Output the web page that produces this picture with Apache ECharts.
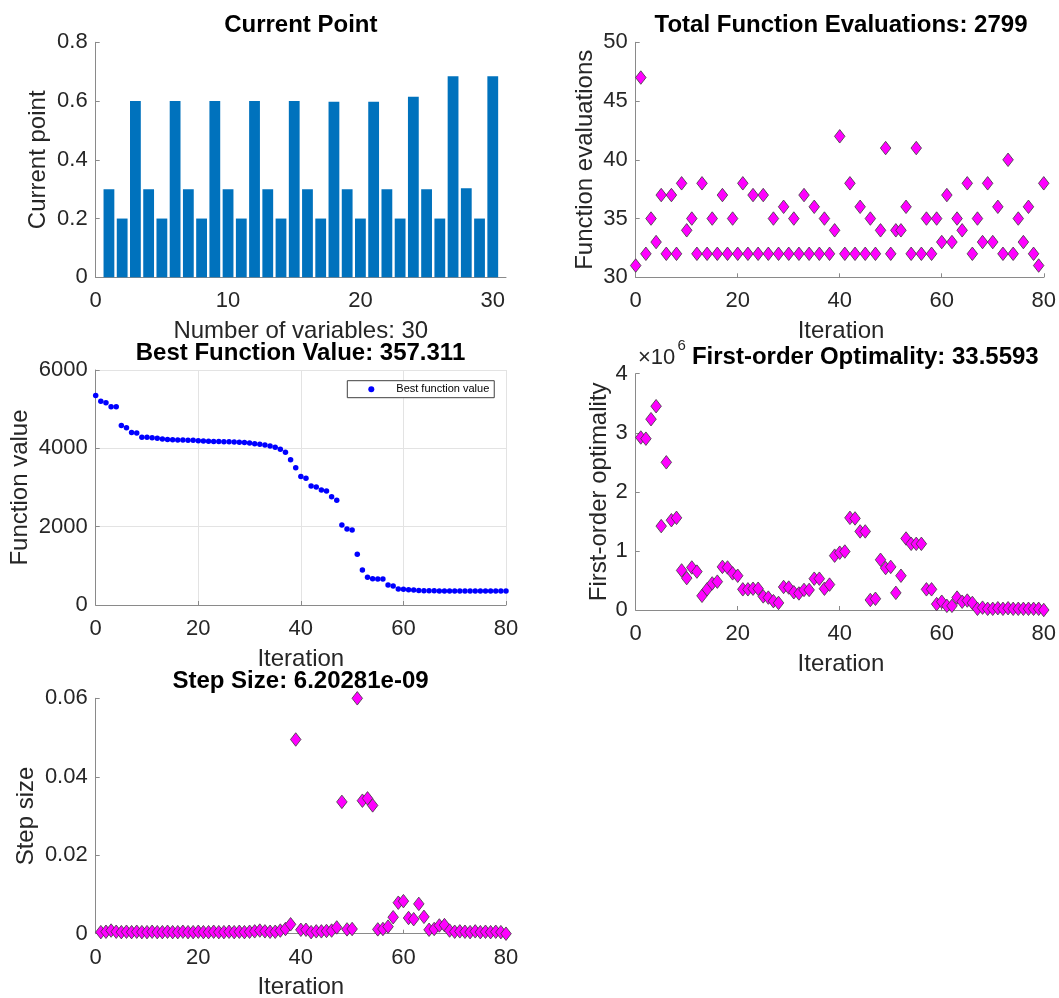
<!DOCTYPE html>
<html><head><meta charset="utf-8">
<script src="https://cdn.jsdelivr.net/npm/echarts@6/dist/echarts.min.js"></script>
<style>html,body{margin:0;padding:0;background:#fff;}#main{width:1059px;height:998px;}</style>
</head><body><div id="main"></div>
<script>
// ---------------- DATA ----------------
// Current point: variables 1..30
const currentPoint = [0.3,0.2,0.6, 0.3,0.2,0.6, 0.3,0.2,0.6, 0.3,0.2,0.6, 0.3,0.2,0.6,
                      0.3,0.2,0.598, 0.3,0.2,0.598, 0.3,0.2,0.615, 0.3,0.2,0.684, 0.303,0.2,0.684];
const currentPointTicks = [0,10,20,30];

// Function evaluations per iteration, iterations 0..80 (sum 2799)
const funcEvals = [31,47,32,35,33,37,32,37,32,38,
                   34,35,32,38,32,35,32,37,32,35,
                   32,38,32,37,32,37,32,35,32,36,
                   32,35,32,37,32,36,32,35,32,34,
                   42,32,38,32,36,32,35,32,34,41,
                   32,34,34,36,32,41,32,35,32,35,
                   33,37,33,35,34,38,32,35,33,38,
                   33,36,32,40,32,35,33,36,32,31,
                   38];

// Best function value, iterations 0..80
const bestFval = [5350,5200,5166,5064,5064,4585,4528,4405,4390,4285,
                  4282,4273,4256,4240,4225,4220,4215,4212,4208,4204,
                  4196,4185,4180,4176,4173,4170,4165,4160,4155,4148,
                  4136,4119,4102,4085,4060,4026,3975,3898,3711,3506,
                  3281,3234,3038,3013,2936,2911,2766,2672,2043,1940,
                  1915,1294,894,706,672,664,664,511,485,409,
                  400,391,383,370,366,362,361,360,360,359,
                  359,359,358,358,358,358,358,357.5,357.5,357.4,
                  357.311];

// First-order optimality (in units of 10^6), iterations 1..80
const firstOrderOptE6 = [2.92,2.90,3.23,3.45,1.42,2.50,1.52,1.56,0.67,0.54,
                         0.72,0.65,0.24,0.35,0.45,0.48,0.73,0.72,0.62,0.58,
                         0.35,0.35,0.36,0.36,0.23,0.21,0.15,0.12,0.39,0.38,
                         0.30,0.28,0.34,0.34,0.53,0.53,0.36,0.43,0.92,0.97,
                         0.99,1.56,1.55,1.33,1.33,0.17,0.19,0.85,0.71,0.73,
                         0.29,0.58,1.21,1.12,1.12,1.12,0.35,0.35,0.10,0.14,
                         0.07,0.07,0.21,0.14,0.16,0.12,0.02,0.04,0.02,0.02,
                         0.03,0.02,0.03,0.02,0.02,0.02,0.02,0.02,0.02,0.0000335593];

// Step size, iterations 1..80
const stepSize = [0.0004,0.0005,0.0008,0.0005,0.0004,0.0005,0.0004,0.0005,0.0004,0.0004,
                  0.0005,0.0004,0.0004,0.0005,0.0004,0.0004,0.0005,0.0004,0.0004,0.0005,
                  0.0004,0.0004,0.0005,0.0004,0.0004,0.0005,0.0004,0.0005,0.0004,0.0005,
                  0.0006,0.0008,0.0006,0.0005,0.0005,0.0008,0.0012,0.0024,0.0495,0.0010,
                  0.0010,0.0004,0.0006,0.0006,0.0007,0.0008,0.0016,0.0336,0.0011,0.0012,
                  0.0600,0.0339,0.0345,0.0327,0.0011,0.0012,0.0018,0.0042,0.0079,0.0083,
                  0.0040,0.0037,0.0076,0.0043,0.0010,0.0012,0.0021,0.0022,0.0008,0.0005,
                  0.0006,0.0005,0.0004,0.0006,0.0004,0.0005,0.0004,0.0005,0.0004,0.00000000620281];

const titles = ['Current Point', 'Total Function Evaluations: 2799', 'Best Function Value: 357.311',
                'First-order Optimality: 33.5593', 'Step Size: 6.20281e-09'];

// ---------------- CHART ----------------
const FONT = '"Liberation Sans", Arial, Helvetica, sans-serif';
const AX = '#8a8a8a';
const TXT = '#262626';

const grids = [
  {left: 95.7, top: 42.3, width: 410.3, height: 235},
  {left: 635.7, top: 42.3, width: 410.3, height: 235},
  {left: 95.7, top: 370, width: 410.3, height: 235},
  {left: 635.7, top: 373.7, width: 410.3, height: 236.3},
  {left: 95.7, top: 698.3, width: 410.3, height: 235.4}
];

const plainNum = v => String(v);

function axis(gridIndex, min, max, interval, isX, extra) {
  const a = {
    type: 'value', gridIndex, min, max, interval,
    axisLine: {show: true, onZero: false, lineStyle: {color: AX, width: 1}},
    axisTick: {show: true, inside: true, length: 4, lineStyle: {color: AX, width: 1}},
    axisLabel: {fontSize: 22, color: TXT, fontFamily: FONT, margin: isX ? 13 : 8, formatter: plainNum},
    splitLine: {show: false}
  };
  if (extra) {
    for (const k in extra) a[k] = Object.assign({}, a[k] || {}, extra[k]);
  }
  return a;
}

const gridLine = {splitLine: {show: true, lineStyle: {color: '#e3e3e3', width: 1}}};

const xAxes = [
  axis(0, 0, 31, 10, true, {
    axisLabel: {formatter: v => currentPointTicks.indexOf(v) >= 0 ? String(v) : ''},
    axisTick: {customValues: currentPointTicks}
  }),
  axis(1, 0, 80, 20, true),
  axis(2, 0, 80, 20, true, gridLine),
  axis(3, 0, 80, 20, true),
  axis(4, 0, 80, 20, true)
];
const yAxes = [
  axis(0, 0, 0.8, 0.2, false),
  axis(1, 30, 50, 5, false),
  axis(2, 0, 6000, 2000, false, gridLine),
  axis(3, 0, 4, 1, false),
  axis(4, 0, 0.06, 0.02, false)
];

const diamond = {
  type: 'scatter', symbol: 'diamond', symbolSize: [10.5, 13.5],
  itemStyle: {color: '#FF00FF', borderColor: '#3a3a3a', borderWidth: 0.8, opacity: 1},
  emphasis: {disabled: true}
};

const series = [
  {
    type: 'bar', xAxisIndex: 0, yAxisIndex: 0, barWidth: 10.8,
    itemStyle: {color: '#0072BD'},
    data: currentPoint.map((v, i) => [i + 1, v])
  },
  Object.assign({}, diamond, {xAxisIndex: 1, yAxisIndex: 1,
    data: funcEvals.map((v, i) => [i, v])}),
  {
    type: 'scatter', name: 'Best function value', xAxisIndex: 2, yAxisIndex: 2,
    symbol: 'circle', symbolSize: 5.5, itemStyle: {color: '#0000FF', opacity: 1},
    emphasis: {disabled: true},
    data: bestFval.map((v, i) => [i, v])
  },
  Object.assign({}, diamond, {xAxisIndex: 3, yAxisIndex: 3,
    data: firstOrderOptE6.map((v, i) => [i + 1, v])}),
  Object.assign({}, diamond, {xAxisIndex: 4, yAxisIndex: 4,
    data: stepSize.map((v, i) => [i + 1, v])})
];

function txt(text, x, y, opts) {
  opts = opts || {};
  return {
    type: 'text', x, y, rotation: opts.rot || 0, z: 100,
    style: {
      text, fill: opts.color || TXT,
      font: (opts.bold ? 'bold ' : '') + (opts.size || 24) + 'px ' + FONT,
      textAlign: opts.align || 'center', textVerticalAlign: 'middle'
    }
  };
}

const graphics = [
  txt(titles[0], 300.8, 25, {bold: true, color: '#000'}),
  txt(titles[1], 841, 25, {bold: true, color: '#000'}),
  txt(titles[2], 300.5, 353, {bold: true, color: '#000'}),
  txt(titles[3], 865.3, 357, {bold: true, color: '#000'}),
  txt(titles[4], 300.5, 681.5, {bold: true, color: '#000'}),
  // x-axis names
  txt('Number of variables: 30', 300.8, 331),
  txt('Iteration', 841, 331),
  txt('Iteration', 300.8, 659),
  txt('Iteration', 840.9, 664),
  txt('Iteration', 300.8, 987),
  // y-axis names
  txt('Current point', 38.5, 159.8, {rot: Math.PI / 2}),
  txt('Function evaluations', 585, 159.8, {rot: Math.PI / 2}),
  txt('Function value', 20.5, 487.5, {rot: Math.PI / 2}),
  txt('First-order optimality', 599, 491.8, {rot: Math.PI / 2}),
  txt('Step size', 26.7, 816, {rot: Math.PI / 2}),
  // exponent label
  txt('\u00d710', 638, 357.5, {size: 22, align: 'left'}),
  txt('6', 677.5, 346, {size: 15, align: 'left'})
];

const chart = echarts.init(document.getElementById('main'), null, {renderer: 'canvas'});
chart.setOption({
  animation: false,
  backgroundColor: '#fff',
  grid: grids,
  xAxis: xAxes,
  yAxis: yAxes,
  series,
  legend: {
    data: [{name: 'Best function value', icon: 'circle'}],
    left: 347.3, top: 380.7,
    padding: [3, 5, 3, 21],
    itemWidth: 6, itemHeight: 6,
    selectedMode: false,
    backgroundColor: '#fff', borderColor: '#404040', borderWidth: 1, borderRadius: 0,
    textStyle: {fontSize: 11, fontFamily: FONT, color: '#000', padding: [0, 0, 0, 17]}
  },
  graphic: graphics
});
</script></body></html>
